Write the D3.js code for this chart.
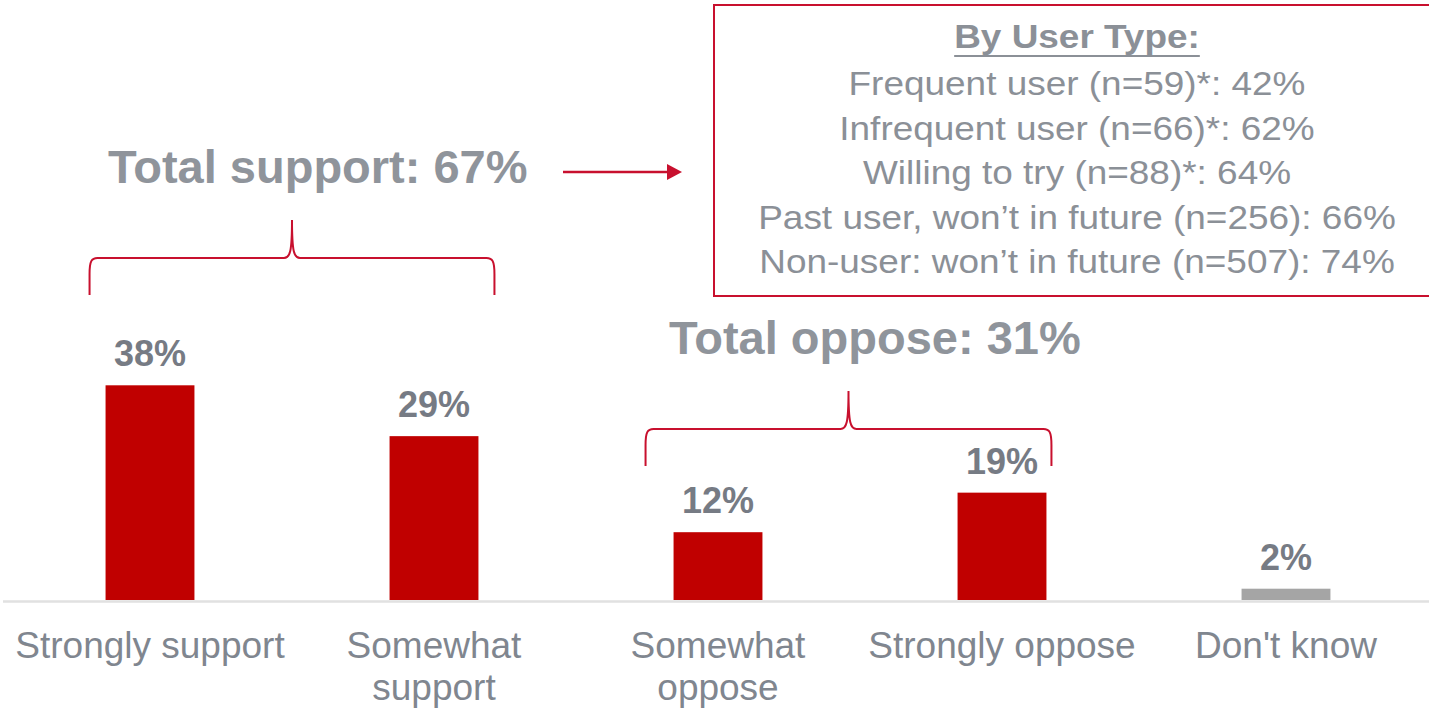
<!DOCTYPE html>
<html>
<head>
<meta charset="utf-8">
<script src="https://cdn.jsdelivr.net/npm/d3@7"></script>
<style>
  html, body { margin: 0; padding: 0; background: #fff; overflow: hidden; }
  svg { display: block; font-family: "Liberation Sans", Arial, Helvetica, sans-serif; }
</style>
</head>
<body>
<svg id="chart" width="1429" height="708"></svg>
<script>
// Survey responses
const categories = ["Strongly support", "Somewhat support", "Somewhat oppose", "Strongly oppose", "Don't know"];
const values = [38, 29, 12, 19, 2];
const barColors = ["#c00000", "#c00000", "#c00000", "#c00000", "#a5a5a5"];

// Net groupings shown with braces
const groupLabels = ["Total support: 67%", "Total oppose: 31%"];
const groupMembers = [[0, 1], [2, 3]];

// Breakdown by user type
const breakdownTitle = "By User Type:";
const breakdownLines = [
  "Frequent user (n=59)*: 42%",
  "Infrequent user (n=66)*: 62%",
  "Willing to try (n=88)*: 64%",
  "Past user, won\u2019t in future (n=256): 66%",
  "Non-user: won\u2019t in future (n=507): 74%"
];

const svg = d3.select("#chart");
const W = 1429, H = 708;
const baseY = 600;

const x = d3.scaleBand()
  .domain(categories)
  .range([8, 1428])
  .paddingInner(0.687)
  .paddingOuter(0.3435);

const y = d3.scaleLinear().domain([0, 40]).range([baseY, baseY - 226]);

const RED = "#c8102e";

// Bars
svg.append("g").selectAll("rect")
  .data(categories)
  .join("rect")
  .attr("x", d => x(d))
  .attr("y", (d, i) => y(values[i]))
  .attr("width", x.bandwidth())
  .attr("height", (d, i) => y(0) - y(values[i]))
  .attr("fill", (d, i) => barColors[i]);

// Baseline
svg.append("line")
  .attr("x1", 3).attr("x2", W)
  .attr("y1", baseY + 1.5).attr("y2", baseY + 1.5)
  .attr("stroke", "#e1e1e1").attr("stroke-width", 2.5);

// Value labels
svg.append("g").selectAll("text")
  .data(categories)
  .join("text")
  .attr("x", d => x(d) + x.bandwidth() / 2)
  .attr("y", (d, i) => y(values[i]) - 19)
  .attr("text-anchor", "middle")
  .attr("font-size", 36)
  .attr("font-weight", "bold")
  .attr("fill", "#767b84")
  .text((d, i) => values[i] + "%");

// Category axis labels (word-wrapped to the band step)
const xAxis = svg.append("g")
  .attr("transform", `translate(0,${baseY})`)
  .call(d3.axisBottom(x).tickSize(0).tickPadding(0));
xAxis.select(".domain").remove();
xAxis.selectAll(".tick text")
  .attr("font-size", 37)
  .attr("font-family", "\"Liberation Sans\", Arial, sans-serif")
  .attr("fill", "#80868f")
  .attr("dy", null)
  .attr("y", 58)
  .each(function (d) {
    const t = d3.select(this);
    const words = d.split(" ");
    t.text(null);
    let line = [];
    let tspan = t.append("tspan").attr("x", 0).attr("y", 58);
    let lineNo = 0;
    words.forEach(w => {
      line.push(w);
      tspan.text(line.join(" "));
      if (tspan.node().getComputedTextLength() > x.step() && line.length > 1) {
        line.pop();
        tspan.text(line.join(" "));
        line = [w];
        lineNo++;
        tspan = t.append("tspan").attr("x", 0).attr("y", 58 + lineNo * 42).text(w);
      }
    });
  });

// Curly braces over grouped bars
function bracePath(x0, x1, xt, yTop, yMid, yBot) {
  return [
    `M${x0},${yBot}`,
    `L${x0},${yMid + 16}`,
    `C${x0},${yMid + 3} ${x0 + 2},${yMid} ${x0 + 8},${yMid}`,
    `L${xt - 8},${yMid}`,
    `C${xt - 2},${yMid} ${xt},${yMid - 6} ${xt},${yTop}`,
    `C${xt},${yMid - 6} ${xt + 2},${yMid} ${xt + 8},${yMid}`,
    `L${x1 - 8},${yMid}`,
    `C${x1 - 2},${yMid} ${x1},${yMid + 3} ${x1},${yMid + 16}`,
    `L${x1},${yBot}`
  ].join(" ");
}

const braceLayout = [
  { padL: 16, padR: 16, yTop: 220, labelX: 108, labelY: 183 },
  { padL: 28, padR: 5, yTop: 391, labelX: 669, labelY: 354 }
];

groupMembers.forEach((members, gi) => {
  const L = braceLayout[gi];
  const x0 = x(categories[members[0]]) - L.padL;
  const x1 = x(categories[members[members.length - 1]]) + x.bandwidth() + L.padR;
  const xt = (x0 + x1) / 2;
  svg.append("path")
    .attr("d", bracePath(x0, x1, xt, L.yTop, L.yTop + 38, L.yTop + 75))
    .attr("fill", "none")
    .attr("stroke", RED)
    .attr("stroke-width", 2);
  svg.append("text")
    .attr("x", L.labelX)
    .attr("y", L.labelY)
    .attr("font-size", 47)
    .attr("font-weight", "bold")
    .attr("fill", "#8f949b")
    .text(groupLabels[gi]);
});

// Arrow pointing to the breakdown box
svg.append("line")
  .attr("x1", 563).attr("x2", 668)
  .attr("y1", 172).attr("y2", 172)
  .attr("stroke", RED).attr("stroke-width", 2.5);
svg.append("path")
  .attr("d", "M667,164 L682,172 L667,180 Z")
  .attr("fill", RED);

// Breakdown box
svg.append("rect")
  .attr("x", 714).attr("y", 5)
  .attr("width", 760).attr("height", 291)
  .attr("fill", "#fff")
  .attr("stroke", RED)
  .attr("stroke-width", 2);

const boxCx = 1077;
const stretch = 1.12;
const title = svg.append("text")
  .attr("transform", `translate(${boxCx},48) scale(${stretch},1)`)
  .attr("text-anchor", "middle")
  .attr("font-size", 33)
  .attr("font-weight", "bold")
  .attr("fill", "#8b9097")
  .text(breakdownTitle);
const tw = title.node().getComputedTextLength() * stretch;
svg.append("line")
  .attr("x1", boxCx - tw / 2).attr("x2", boxCx + tw / 2)
  .attr("y1", 56).attr("y2", 56)
  .attr("stroke", "#8b9097").attr("stroke-width", 2);

svg.append("g").selectAll("text")
  .data(breakdownLines)
  .join("text")
  .attr("transform", (d, i) => `translate(${boxCx},${95 + i * 44.6}) scale(${stretch},1)`)
  .attr("text-anchor", "middle")
  .attr("font-size", 33)
  .attr("fill", "#8b9097")
  .text(d => d);
</script>
</body>
</html>
